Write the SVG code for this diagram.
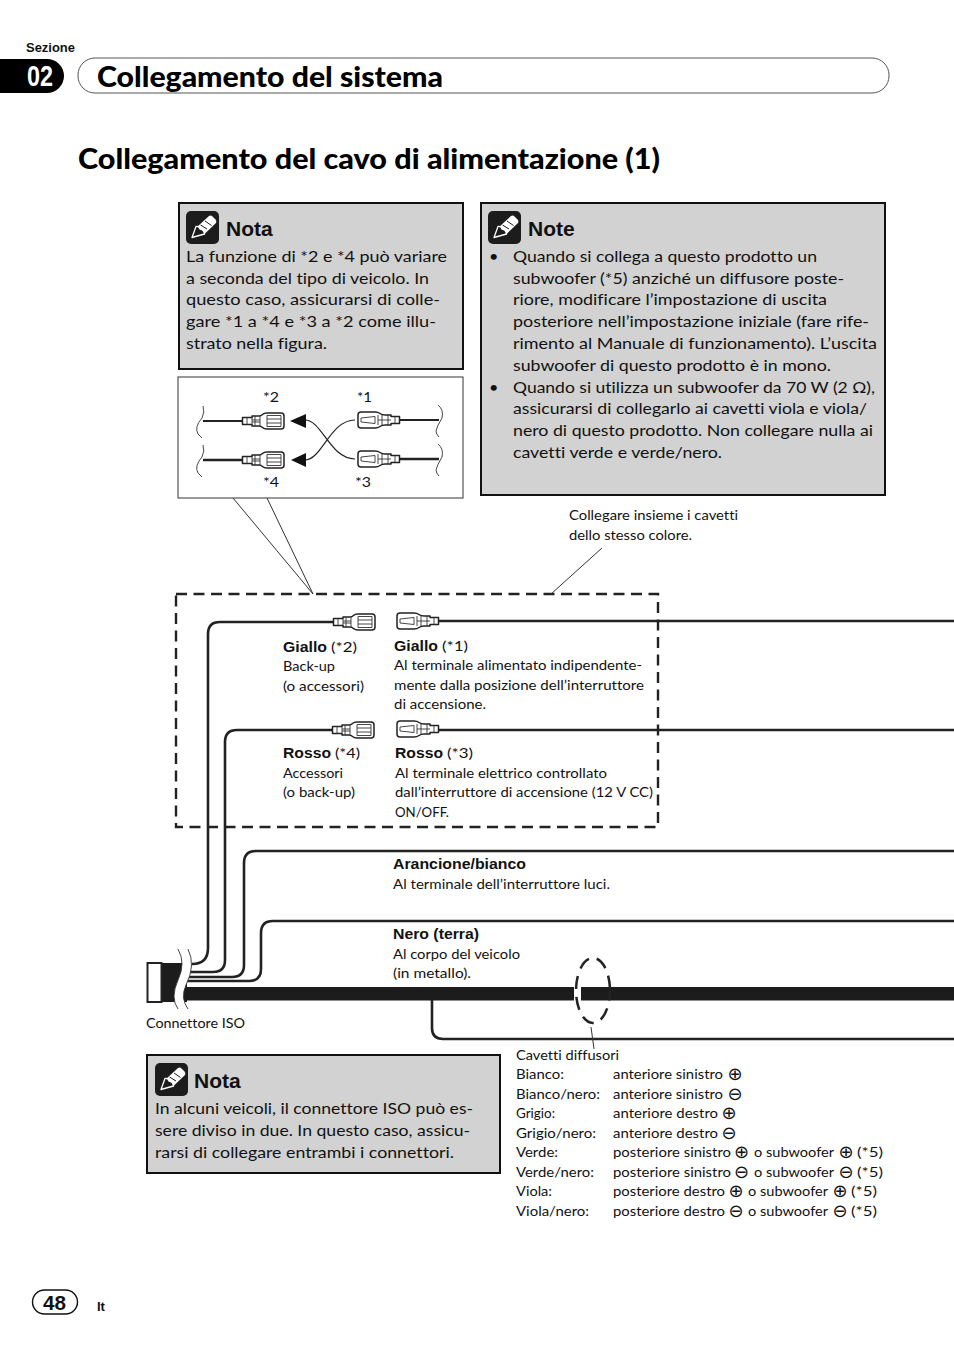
<svg xmlns="http://www.w3.org/2000/svg" width="954" height="1354" viewBox="0 0 954 1354">
<style>
text{font-family:"Lato","Carlito","Liberation Sans",sans-serif;fill:#111;white-space:pre;font-variant-ligatures:none}
.b{font-size:16.2px}
.s{font-size:13.7px}
.h{font-family:"Liberation Sans",Arial,sans-serif;font-weight:700}
.lb{font-family:"Liberation Sans",Arial,sans-serif;font-weight:700;font-size:15px}
.t{font-weight:900;font-size:28px;fill:#000}
.nh{font-family:"Liberation Sans",Arial,sans-serif;font-weight:700;font-size:21px}
.g{font-family:"DejaVu Sans",sans-serif;font-size:18px;text-anchor:middle}
.box{fill:#d2d2d2;stroke:#111;stroke-width:2}
.wire{fill:none;stroke:#222;stroke-width:2.6}
.thin{fill:none;stroke:#333;stroke-width:1}
.sq{fill:none;stroke:#333;stroke-width:.9}
.cb{fill:#fff;stroke:#222;stroke-width:1.500;stroke-linejoin:round}
.cd{fill:none;stroke:#333;stroke-width:.9}
</style>
<defs>
<g id="icon"><rect width="33" height="33" rx="5" fill="#1c1c1c"/><path d="M11 16 L23 5 Q25 4 26.500 5.500 L29.500 8.500 Q31 10 30 12 L18 23.500 Z" fill="#fff"/><path d="M14.500 14 L21 18 M19 10 L25.500 14.500" stroke="#1c1c1c" stroke-width="1" fill="none"/><path d="M6 26.500 L10 15.500 Q13 15 14 18 Q18 18.500 18.500 23 Z" fill="#1c1c1c" stroke="#fff" stroke-width="1.300" stroke-linejoin="round"/></g>
<g id="cf"><path class="cb" d="M0.500 -3.500 H10 V-5 H17 Q19 -5 20.500 -6.500 Q22 -8 25 -8 H39 Q42 -8 42 -5 V5 Q42 8 39 8 H25 Q22 8 20.500 6.500 Q19 5 17 5 H10 V3.500 H0.500 Z"/><path class="cd" d="M5 -3.500 V3.500 M10 -3.500 V3.500 M13 -5 V5 M18 -5 V5 M10 -1 H18 M10 1 H18 M25 -5.500 H39 V5.500 H25 Z M25 -2 H39 M25 2 H39"/></g>
<g id="cm"><path class="cb" d="M41.500 -3.500 H33 V-5 H27 Q24 -5 22 -6.500 Q20 -8 17 -8 H3 Q0 -8 0 -5 V5 Q0 8 3 8 H17 Q20 8 22 6.500 Q24 5 27 5 H33 V3.500 H41.500 Z"/><path class="cd" d="M3 -2 L17 -3.500 V3.500 L3 2 Z M20 -5 V5 M24 -5 V5 M30 -5 V5 M20 0 H33 M37 -3.500 V3.500"/></g>
<path id="sl" d="M7 0 Q9 6 6 12 Q-2 21 2 28 L6 32"/>
<path id="sr" d="M-1 0 Q5 5 3 13 Q-2 21 -3 26 Q-3 29 0 32"/>
</defs>

<g id="section-header">
<text class="h" x="26" y="52" font-size="12.500" textLength="49" lengthAdjust="spacingAndGlyphs">Sezione</text>
<path d="M0 59 H47 A17 17 0 0 1 47 93 H0 Z" fill="#000"/>
<text class="h" x="27" y="86" font-size="30" textLength="26" lengthAdjust="spacingAndGlyphs" style="fill:#fff">02</text>
<rect x="78" y="58" width="811" height="35" rx="17" fill="#fff" stroke="#555" stroke-width="1"/>
<text class="t" x="97" y="87" textLength="346" lengthAdjust="spacingAndGlyphs">Collegamento del sistema</text>
</g>
<g id="page-title"><text class="t" x="78" y="169" textLength="582" lengthAdjust="spacingAndGlyphs">Collegamento del cavo di alimentazione (1)</text></g>

<g id="nota-1">
<rect class="box" x="179" y="203" width="284" height="166"/>
<use href="#icon" x="186" y="211"/>
<text class="nh" x="226" y="236">Nota</text>
<text class="b" x="186" y="262" textLength="261" lengthAdjust="spacingAndGlyphs">La funzione di *2 e *4 può variare</text>
<text class="b" x="186" y="284" textLength="243" lengthAdjust="spacingAndGlyphs">a seconda del tipo di veicolo. In</text>
<text class="b" x="186" y="305" textLength="254" lengthAdjust="spacingAndGlyphs">questo caso, assicurarsi di colle-</text>
<text class="b" x="186" y="327" textLength="250" lengthAdjust="spacingAndGlyphs">gare *1 a *4 e *3 a *2 come illu-</text>
<text class="b" x="186" y="349" textLength="141" lengthAdjust="spacingAndGlyphs">strato nella figura.</text>
</g>

<g id="note-2">
<rect class="box" x="481" y="203" width="404" height="292"/>
<use href="#icon" x="488" y="211"/>
<text class="nh" x="528" y="236">Note</text>
<text class="b" x="489" y="262">•</text>
<text class="b" x="513" y="262" textLength="304" lengthAdjust="spacingAndGlyphs">Quando si collega a questo prodotto un</text>
<text class="b" x="513" y="284" textLength="331" lengthAdjust="spacingAndGlyphs">subwoofer (*5) anziché un diffusore poste-</text>
<text class="b" x="513" y="305" textLength="314" lengthAdjust="spacingAndGlyphs">riore, modificare l’impostazione di uscita</text>
<text class="b" x="513" y="327" textLength="356" lengthAdjust="spacingAndGlyphs">posteriore nell’impostazione iniziale (fare rife-</text>
<text class="b" x="513" y="349" textLength="364" lengthAdjust="spacingAndGlyphs">rimento al Manuale di funzionamento). L’uscita</text>
<text class="b" x="513" y="371" textLength="318" lengthAdjust="spacingAndGlyphs">subwoofer di questo prodotto è in mono.</text>
<text class="b" x="489" y="393">•</text>
<text class="b" x="513" y="393" textLength="362" lengthAdjust="spacingAndGlyphs">Quando si utilizza un subwoofer da 70 W (2 Ω),</text>
<text class="b" x="513" y="414" textLength="354" lengthAdjust="spacingAndGlyphs">assicurarsi di collegarlo ai cavetti viola e viola/</text>
<text class="b" x="513" y="436" textLength="360" lengthAdjust="spacingAndGlyphs">nero di questo prodotto. Non collegare nulla ai</text>
<text class="b" x="513" y="458" textLength="209" lengthAdjust="spacingAndGlyphs">cavetti verde e verde/nero.</text>
</g>

<g id="inset">
<rect x="178" y="377" width="285" height="121" fill="#fff" stroke="#333" stroke-width="1"/>
<path class="thin" d="M233 498 L313 594 M267 498 L313 594"/>
<g stroke="#222" fill="none"><path d="M203 421 H242 M400 420 H439" stroke-width="1.800"/><path d="M203 460 H242 M400 459 H439" stroke-width="2.400"/></g>
<g class="sq"><use href="#sl" x="196" y="406"/><use href="#sl" x="196" y="445"/><use href="#sr" x="439" y="405"/><use href="#sr" x="439" y="444"/></g>
<use href="#cf" x="242" y="421"/><use href="#cf" x="242" y="460"/><use href="#cm" x="358" y="420"/><use href="#cm" x="358" y="459"/>
<path d="M305 420 C322 420 330 459 355 459 M305 460 C322 460 330 420 355 420" fill="none" stroke="#222" stroke-width="1.200"/>
<path d="M290 421 L306 414 V428 Z M291 460 L306 453 V467 Z" fill="#111"/>
<text class="s" x="263" y="402" textLength="16" lengthAdjust="spacingAndGlyphs">*2</text><text class="s" x="357" y="402" textLength="15" lengthAdjust="spacingAndGlyphs">*1</text>
<text class="s" x="263" y="487" textLength="16" lengthAdjust="spacingAndGlyphs">*4</text><text class="s" x="355" y="487" textLength="16" lengthAdjust="spacingAndGlyphs">*3</text>
</g>

<g id="connectors">
<rect x="176" y="594" width="482" height="233" fill="none" stroke="#222" stroke-width="2.400" stroke-dasharray="11 6.500"/>
<path class="thin" d="M551 594 L602 548"/>
<path class="wire" d="M333 622 H220 Q208 622 208 634 V948 Q208 964 192 964"/>
<path class="wire" d="M333 730 H237 Q225 730 225 742 V960 Q225 972 213 972 H190"/>
<path class="wire" d="M954 851 H256 Q244 851 244 863 V965 Q244 977 232 977 H188"/>
<path class="wire" d="M954 921 H273 Q261 921 261 933 V969 Q261 981 249 981 H186"/>
<path class="wire" d="M439 621 H954 M439 730 H954"/>
<path class="wire" d="M432 1000 V1028 Q432 1039 443 1039 H954"/>
<rect x="184" y="987" width="770" height="13.500" fill="#1c1c1c"/>
<path d="M574 986 H581 V1001 H574 Z" fill="#fff"/>
<path class="thin" d="M591 1027 L594 1049"/>
<ellipse cx="593" cy="990.500" rx="17" ry="32.500" fill="none" stroke="#222" stroke-width="2.500" stroke-dasharray="13 8" stroke-dashoffset="3"/>
</g>

<g id="connector-iso">
<rect x="161" y="963" width="26" height="39" fill="#1c1c1c"/>
<path d="M178 949 Q186 963 178 980 Q170 998 178 1009 H188 Q180 998 186 985 Q196 965 188 949 Z" fill="#fff"/>
<path class="sq" d="M178 949 Q186 963 178 980 Q170 998 178 1009 M188 949 Q196 965 186 985 Q180 998 188 1009"/>
<rect x="147.500" y="963" width="14" height="39" fill="#fff" stroke="#222" stroke-width="2"/>
<text class="s" x="146" y="1028" textLength="99" lengthAdjust="spacingAndGlyphs">Connettore ISO</text>
</g>

<g id="term-giallo-2"><use href="#cf" x="333" y="622"/>
<text class="lb" x="283" y="652" textLength="44" lengthAdjust="spacingAndGlyphs">Giallo</text><text class="s" x="331" y="652" textLength="26" lengthAdjust="spacingAndGlyphs">(*2)</text>
<text class="s" x="283" y="671" textLength="52" lengthAdjust="spacingAndGlyphs">Back-up</text>
<text class="s" x="283" y="691" textLength="81" lengthAdjust="spacingAndGlyphs">(o accessori)</text></g>
<g id="term-giallo-1"><use href="#cm" x="397" y="621"/>
<text class="lb" x="394" y="651" textLength="44" lengthAdjust="spacingAndGlyphs">Giallo</text><text class="s" x="442" y="651" textLength="26" lengthAdjust="spacingAndGlyphs">(*1)</text>
<text class="s" x="394" y="670" textLength="248" lengthAdjust="spacingAndGlyphs">Al terminale alimentato indipendente-</text>
<text class="s" x="394" y="690" textLength="250" lengthAdjust="spacingAndGlyphs">mente dalla posizione dell’interruttore</text>
<text class="s" x="394" y="709" textLength="92" lengthAdjust="spacingAndGlyphs">di accensione.</text></g>
<g id="term-rosso-4"><use href="#cf" x="332" y="730"/>
<text class="lb" x="283" y="758" textLength="48" lengthAdjust="spacingAndGlyphs">Rosso</text><text class="s" x="335" y="758" textLength="25" lengthAdjust="spacingAndGlyphs">(*4)</text>
<text class="s" x="283" y="778" textLength="60" lengthAdjust="spacingAndGlyphs">Accessori</text>
<text class="s" x="283" y="797" textLength="72" lengthAdjust="spacingAndGlyphs">(o back-up)</text></g>
<g id="term-rosso-3"><use href="#cm" x="397" y="729"/>
<text class="lb" x="395" y="758" textLength="48" lengthAdjust="spacingAndGlyphs">Rosso</text><text class="s" x="447" y="758" textLength="26" lengthAdjust="spacingAndGlyphs">(*3)</text>
<text class="s" x="395" y="778" textLength="212" lengthAdjust="spacingAndGlyphs">Al terminale elettrico controllato</text>
<text class="s" x="395" y="797" textLength="258" lengthAdjust="spacingAndGlyphs">dall’interruttore di accensione (12 V CC)</text>
<text class="s" x="395" y="817" textLength="54" lengthAdjust="spacingAndGlyphs">ON/OFF.</text></g>

<g id="label-arancione"><text class="lb" x="393" y="869" textLength="133" lengthAdjust="spacingAndGlyphs">Arancione/bianco</text>
<text class="s" x="393" y="889" textLength="217" lengthAdjust="spacingAndGlyphs">Al terminale dell’interruttore luci.</text></g>
<g id="label-nero"><text class="lb" x="393" y="939" textLength="86" lengthAdjust="spacingAndGlyphs">Nero (terra)</text>
<text class="s" x="393" y="959" textLength="127" lengthAdjust="spacingAndGlyphs">Al corpo del veicolo</text>
<text class="s" x="393" y="978" textLength="78" lengthAdjust="spacingAndGlyphs">(in metallo).</text></g>
<g id="label-colori"><text class="s" x="569" y="520" textLength="169" lengthAdjust="spacingAndGlyphs">Collegare insieme i cavetti</text>
<text class="s" x="569" y="540" textLength="123" lengthAdjust="spacingAndGlyphs">dello stesso colore.</text></g>

<g id="nota-3">
<rect class="box" x="147" y="1055" width="353" height="118"/>
<use href="#icon" x="155" y="1063"/>
<text class="nh" x="194" y="1088">Nota</text>
<text class="b" x="155" y="1114" textLength="318" lengthAdjust="spacingAndGlyphs">In alcuni veicoli, il connettore ISO può es-</text>
<text class="b" x="155" y="1136" textLength="315" lengthAdjust="spacingAndGlyphs">sere diviso in due. In questo caso, assicu-</text>
<text class="b" x="155" y="1158" textLength="299" lengthAdjust="spacingAndGlyphs">rarsi di collegare entrambi i connettori.</text>
</g>

<g id="speaker-table">
<text class="s" x="516" y="1060" textLength="103" lengthAdjust="spacingAndGlyphs">Cavetti diffusori</text>
<text class="s" x="516" y="1079" textLength="48" lengthAdjust="spacingAndGlyphs">Bianco:</text>
<text class="s" x="613" y="1079" textLength="110" lengthAdjust="spacingAndGlyphs">anteriore sinistro</text><text class="g" x="735" y="1080">⊕</text>
<text class="s" x="516" y="1099" textLength="84" lengthAdjust="spacingAndGlyphs">Bianco/nero:</text>
<text class="s" x="613" y="1099" textLength="110" lengthAdjust="spacingAndGlyphs">anteriore sinistro</text><text class="g" x="735" y="1100">⊖</text>
<text class="s" x="516" y="1118" textLength="39" lengthAdjust="spacingAndGlyphs">Grigio:</text>
<text class="s" x="613" y="1118" textLength="105" lengthAdjust="spacingAndGlyphs">anteriore destro</text><text class="g" x="729" y="1119">⊕</text>
<text class="s" x="516" y="1138" textLength="80" lengthAdjust="spacingAndGlyphs">Grigio/nero:</text>
<text class="s" x="613" y="1138" textLength="105" lengthAdjust="spacingAndGlyphs">anteriore destro</text><text class="g" x="729" y="1139">⊖</text>
<text class="s" x="516" y="1157" textLength="42" lengthAdjust="spacingAndGlyphs">Verde:</text>
<text class="s" x="613" y="1157" textLength="118" lengthAdjust="spacingAndGlyphs">posteriore sinistro</text><text class="g" x="741.500" y="1158">⊕</text><text class="s" x="754" y="1157" textLength="80" lengthAdjust="spacingAndGlyphs">o subwoofer</text><text class="g" x="846" y="1158">⊕</text><text class="s" x="857" y="1157" textLength="26" lengthAdjust="spacingAndGlyphs">(*5)</text>
<text class="s" x="516" y="1177" textLength="78" lengthAdjust="spacingAndGlyphs">Verde/nero:</text>
<text class="s" x="613" y="1177" textLength="118" lengthAdjust="spacingAndGlyphs">posteriore sinistro</text><text class="g" x="741.500" y="1178">⊖</text><text class="s" x="754" y="1177" textLength="80" lengthAdjust="spacingAndGlyphs">o subwoofer</text><text class="g" x="846" y="1178">⊖</text><text class="s" x="857" y="1177" textLength="26" lengthAdjust="spacingAndGlyphs">(*5)</text>
<text class="s" x="516" y="1196" textLength="36" lengthAdjust="spacingAndGlyphs">Viola:</text>
<text class="s" x="613" y="1196" textLength="112" lengthAdjust="spacingAndGlyphs">posteriore destro</text><text class="g" x="736" y="1197">⊕</text><text class="s" x="748" y="1196" textLength="80" lengthAdjust="spacingAndGlyphs">o subwoofer</text><text class="g" x="840" y="1197">⊕</text><text class="s" x="851" y="1196" textLength="26" lengthAdjust="spacingAndGlyphs">(*5)</text>
<text class="s" x="516" y="1216" textLength="73" lengthAdjust="spacingAndGlyphs">Viola/nero:</text>
<text class="s" x="613" y="1216" textLength="112" lengthAdjust="spacingAndGlyphs">posteriore destro</text><text class="g" x="736" y="1217">⊖</text><text class="s" x="748" y="1216" textLength="80" lengthAdjust="spacingAndGlyphs">o subwoofer</text><text class="g" x="840" y="1217">⊖</text><text class="s" x="851" y="1216" textLength="26" lengthAdjust="spacingAndGlyphs">(*5)</text>
</g>

<g id="footer">
<rect x="32.500" y="1290" width="45" height="24" rx="12" fill="#fff" stroke="#111" stroke-width="1.400"/>
<text class="h" x="43" y="1310" font-size="21" textLength="23" lengthAdjust="spacingAndGlyphs">48</text>
<text class="h" x="97" y="1311" font-size="13">It</text>
</g>
</svg>
